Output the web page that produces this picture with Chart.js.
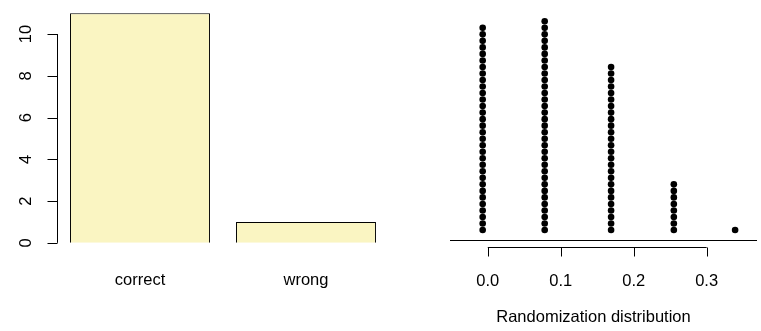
<!DOCTYPE html>
<html>
<head>
<meta charset="utf-8">
<script src="https://cdn.jsdelivr.net/npm/chart.js@4"></script>
<style>
  body { margin: 0; background: #fff; }
  .panel { position: absolute; top: 0; }
</style>
</head>
<body>
<div class="panel" style="left:0"><canvas id="chart1" width="400" height="331"></canvas></div>
<div class="panel" style="left:400px"><canvas id="chart2" width="361" height="331"></canvas></div>
<script>
// left panel: counts of answers
const categories = ["correct", "wrong"];
const counts = [11, 1];
const countTicks = [0, 2, 4, 6, 8, 10];

// right panel: randomization distribution (stack sizes at each value)
const distValues = [-0.007, 0.078, 0.169, 0.255, 0.339];
const distCounts = [32, 33, 26, 8, 1];
const distTicks = [0.0, 0.1, 0.2, 0.3];
const distTitle = "Randomization distribution";

const FONT = "16.5px 'Liberation Sans', Arial, sans-serif";

// axes drawn R style (short axis line, outward ticks)
const barAxes = {
  id: "barAxes",
  afterDraw(chart) {
    const ctx = chart.ctx;
    const y = chart.scales.y;
    const x = chart.scales.x;
    const ax = chart.chartArea.left;
    ctx.save();
    ctx.strokeStyle = "#000";
    ctx.lineWidth = 1;
    ctx.beginPath();
    ctx.moveTo(ax + 0.5, y.getPixelForValue(countTicks[0]));
    ctx.lineTo(ax + 0.5, y.getPixelForValue(countTicks[countTicks.length - 1]));
    countTicks.forEach(function (t) {
      const py = Math.round(y.getPixelForValue(t)) + 0.5;
      ctx.moveTo(ax + 0.5, py);
      ctx.lineTo(ax - 9.5, py);
    });
    ctx.stroke();
    ctx.fillStyle = "#000";
    ctx.font = FONT;
    ctx.textAlign = "center";
    ctx.textBaseline = "middle";
    countTicks.forEach(function (t) {
      ctx.save();
      ctx.translate(26, y.getPixelForValue(t));
      ctx.rotate(-Math.PI / 2);
      ctx.fillText(String(t), 0, 0);
      ctx.restore();
    });
    categories.forEach(function (c, i) {
      ctx.fillText(c, x.getPixelForValue(i), 280);
    });
    ctx.restore();
  },
};

const dotAxes = {
  id: "dotAxes",
  afterDraw(chart) {
    const ctx = chart.ctx;
    const x = chart.scales.x;
    const area = chart.chartArea;
    ctx.save();
    ctx.strokeStyle = "#000";
    ctx.lineWidth = 1;
    ctx.beginPath();
    ctx.moveTo(area.left, area.bottom + 0.5);
    ctx.lineTo(area.right, area.bottom + 0.5);
    const ay = 247.5;
    ctx.moveTo(x.getPixelForValue(distTicks[0]), ay);
    ctx.lineTo(x.getPixelForValue(distTicks[distTicks.length - 1]), ay);
    distTicks.forEach(function (t) {
      const px = Math.round(x.getPixelForValue(t)) + 0.5;
      ctx.moveTo(px, ay);
      ctx.lineTo(px, ay + 9);
    });
    ctx.stroke();
    ctx.fillStyle = "#000";
    ctx.font = FONT;
    ctx.textAlign = "center";
    ctx.textBaseline = "middle";
    distTicks.forEach(function (t) {
      ctx.fillText(t.toFixed(1), x.getPixelForValue(t), 281);
    });
    ctx.fillText(distTitle, (area.left + area.right) / 2 - 10, 317);
    ctx.restore();
  },
};

var chart1 = new Chart(document.getElementById("chart1").getContext("2d"), {
  type: "bar",
  data: {
    labels: categories,
    datasets: [
      {
        data: counts,
        backgroundColor: "#FAF5C2",
        borderColor: "#000",
        borderWidth: 1,
        categoryPercentage: 1,
        barPercentage: 0.843,
      },
    ],
  },
  options: {
    responsive: false,
    animation: false,
    devicePixelRatio: 1,
    layout: { padding: { left: 57, right: 11, top: 4, bottom: 79 } },
    plugins: { legend: { display: false }, tooltip: { enabled: false } },
    scales: {
      x: { display: false },
      y: { display: false, min: -0.44, max: 11.44 },
    },
  },
  plugins: [barAxes],
});

// one point per randomization, stacked upward
const dots = [];
distValues.forEach(function (v, i) {
  for (let k = 1; k <= distCounts[i]; k++) dots.push({ x: v, y: k });
});

var chart2 = new Chart(document.getElementById("chart2").getContext("2d"), {
  type: "scatter",
  data: {
    datasets: [
      {
        data: dots,
        backgroundColor: "#000",
        borderWidth: 0,
        pointRadius: 3.3,
      },
    ],
  },
  options: {
    responsive: false,
    animation: false,
    devicePixelRatio: 1,
    layout: { padding: { left: 50, right: 0, top: 5, bottom: 91 } },
    plugins: { legend: { display: false }, tooltip: { enabled: false } },
    scales: {
      x: { type: "linear", display: false, min: -0.0518, max: 0.369 },
      y: { display: false, min: -0.53, max: 35.5 },
    },
  },
  plugins: [dotAxes],
});
</script>
</body>
</html>
